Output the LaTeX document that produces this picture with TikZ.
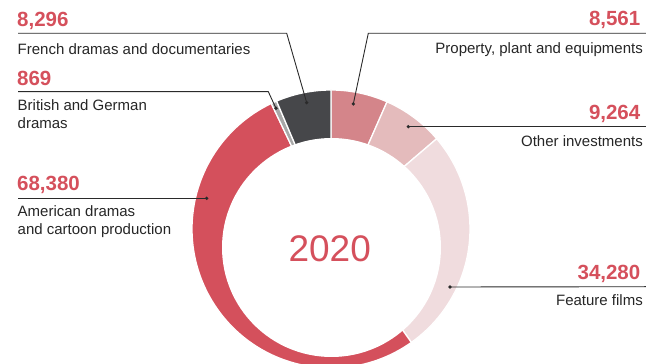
\documentclass[tikz,border=0pt]{standalone}
\usepackage{fontspec}
\setmainfont{Liberation Sans}
\usetikzlibrary{calc}
\definecolor{numred}{HTML}{D5505C}
\definecolor{labcol}{HTML}{262626}
\definecolor{leadcol}{HTML}{2A2A2A}
\definecolor{sprop}{HTML}{D4858A}
\definecolor{sother}{HTML}{E4BBBC}
\definecolor{sfeat}{HTML}{F0DCDE}
\definecolor{samer}{HTML}{D4505C}
\definecolor{sbrit}{HTML}{A8A8A8}
\definecolor{sfren}{HTML}{46474A}
\newcommand\ringseg[3]{\filldraw[#3, segline] (O) -- ($(O)+(#1:139)$) arc[start angle=#1, end angle=#2, radius=139pt] -- cycle;}
\begin{document}
\begin{tikzpicture}[x=1pt,y=1pt,
  segline/.style={draw=white, line width=1.3pt},
  lead/.style={draw=leadcol, line width=0.9pt},
  dotmark/.style={circle, fill=leadcol, inner sep=0pt, minimum size=3.6pt},
  num/.style={font=\fontsize{20.5}{24}\selectfont\bfseries, text=numred, inner sep=0pt},
  lab/.style={font=\fontsize{15}{18}\selectfont, text=labcol, inner sep=0pt, align=left},
  labr/.style={font=\fontsize{15}{18}\selectfont, text=labcol, inner sep=0pt, align=right},
]
\useasboundingbox (0,0) rectangle (646,364);
\clip (0,0) rectangle (646,364);
\coordinate (O) at (331,135);
\coordinate (I) at (331.5,116.5);
% ring segments
\ringseg{90}{66.229}{fill=sprop}
\ringseg{66.229}{40.506}{fill=sother}
\ringseg{40.506}{-54.68}{fill=sfeat}
\ringseg{-54.68}{-244.55}{fill=samer}
\ringseg{-244.55}{-246.963}{fill=sbrit}
\ringseg{-246.963}{-270}{fill=sfren}
\fill[white] (I) circle[radius=109.5pt];
\node[font=\fontsize{37}{40}\selectfont, text=numred, inner sep=0pt] (yr) at (329.7,115.5) {2020};
% dots
\node[dotmark] (dFr) at (306.7,261.3) {};
\node[dotmark] (dBr) at (276,255.7) {};
\node[dotmark] (dAm) at (206.7,165.7) {};
\node[dotmark] (dPr) at (353.3,260) {};
\node[dotmark] (dOt) at (408.3,237.3) {};
\node[dotmark] (dFe) at (450,77) {};
% leader line points
\coordinate (sFr) at (18,330.7);
\coordinate (kFr) at (286.7,330.7);
\coordinate (sBr) at (18,272.3);
\coordinate (kBr) at (268.3,272.3);
\coordinate (sAm) at (18,165.7);
\coordinate (sPr) at (646,330.7);
\coordinate (kPr) at (368.3,330.7);
\coordinate (sOt) at (646,237.3);
\coordinate (sFe) at (646,77.3);
\draw[lead] (sFr) -- (kFr) -- (dFr.center);
\draw[lead] (sBr) -- (kBr) -- (dBr.center);
\draw[lead] (sAm) -- (dAm.center);
\draw[lead] (sPr) -- (kPr) -- (dPr.center);
\draw[lead] (sOt) -- (dOt.center);
\draw[lead] (sFe) -- (dFe.center);
% left labels
\node[num, anchor=base west] (nFr) at (17,337.3) {8,296};
\node[lab, anchor=base west] (tFr) at (17.5,309.7) {French dramas and documentaries};
\node[num, anchor=base west] (nBr) at (17,278) {869};
\node[lab, anchor=base west] (tBr) at (17.5,235) {British and German\\dramas};
\node[num, anchor=base west] (nAm) at (17,173.3) {68,380};
\node[lab, anchor=base west] (tAm) at (17.5,129.7) {American dramas\\and cartoon production};
% right labels
\node[num, anchor=base east] (nPr) at (640.5,338) {8,561};
\node[labr, anchor=base east] (tPr) at (643,310.7) {Property, plant and equipments};
\node[num, anchor=base east] (nOt) at (640.5,244) {9,264};
\node[labr, anchor=base east] (tOt) at (643,217.3) {Other investments};
\node[num, anchor=base east] (nFe) at (640.5,84.7) {34,280};
\node[labr, anchor=base east] (tFe) at (643,58) {Feature films};
\end{tikzpicture}
\end{document}
